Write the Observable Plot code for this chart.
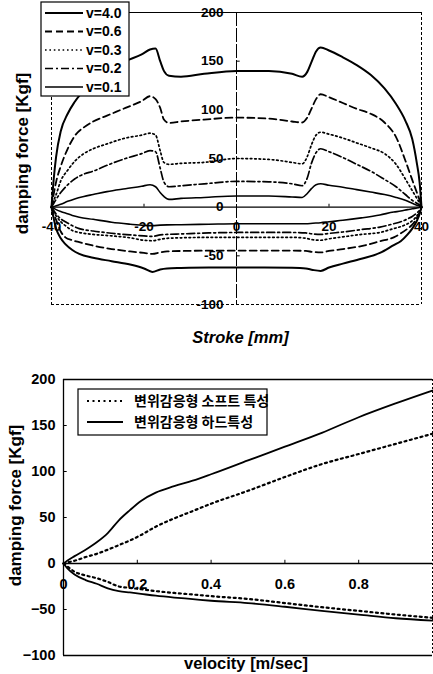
<!DOCTYPE html>
<html>
<head>
<meta charset="utf-8">
<script src="https://cdn.jsdelivr.net/npm/d3@7"></script>
<script src="https://cdn.jsdelivr.net/npm/@observablehq/plot@0.6"></script>
<style>
  body { margin: 0; background: #fff; }
  #charts svg { display: block; }
</style>
</head>
<body>
<div id="charts"></div>
<script>
// ---- Damping force vs. stroke, one loop per piston velocity ----
const velocityLabels = ["v=4.0", "v=0.6", "v=0.3", "v=0.2", "v=0.1"];

// stroke positions (mm) of the compression (upper) branch
const strokeUpper = [-40, -39.5, -39, -38, -36.5, -35, -33, -31, -28, -24, -20.5, -18.7, -17.5, -16.5, -15.7, -14.6, -12, -7, 0, 7, 12, 14.2, 15.3, 16.2, 17.2, 18.2, 20, 23, 26, 29, 32, 34.5, 36.5, 38, 39, 39.6, 40];
const up40 = [0, 30, 52, 78, 96, 108, 120, 130, 140, 150, 157, 162, 163, 150, 140, 135, 134, 137, 140, 140, 137, 134, 139, 149, 160, 164, 161, 154, 146, 136, 122, 106, 89, 70, 45, 25, 0];
const up06 = [0, 14, 26, 42, 60, 73, 82, 88, 94, 102, 109, 114, 111, 102, 90, 86.5, 88, 90, 92, 91, 88, 87, 92, 101, 111, 116, 113, 107, 101, 96, 87, 72, 48, 28, 15, 7, 0];
const up03 = [0, 7, 13, 27, 38, 47, 55, 60, 65, 71, 74, 76, 74, 58, 46, 44, 45, 46, 50, 49, 46, 44.5, 52, 64, 74, 77, 75, 71, 66, 61, 55, 44, 29, 17, 9, 4, 0];
const up02 = [0, 4, 8, 15, 23, 29, 34, 37, 43, 50, 55, 58, 57, 40, 26, 21, 22, 24, 26.5, 26, 24, 22, 30, 45, 56, 60, 57, 51, 44, 37, 28.5, 21, 13, 7, 4, 2, 0];
const up01 = [0, 0.5, 1.5, 3, 6, 8.5, 11, 13, 16, 19, 21.5, 23, 21, 15, 11, 8, 9, 10, 11.5, 11.5, 10.5, 10, 14, 19, 23, 24, 22.5, 20.5, 18, 15.5, 13, 10, 7, 4, 2, 1, 0];

// stroke positions (mm) of the rebound (lower) branch
const strokeLower = [-40, -39.6, -39, -38, -37, -35.5, -34, -31, -27, -23, -20, -18.2, -16.5, -15, -12, -6, 0, 6, 12, 15, 16.5, 18.2, 20, 23, 27, 31, 34, 35.5, 37, 38, 39, 39.6, 40];
const lo40 = [0, -10, -22, -32, -38, -44, -48, -52, -55.5, -59, -63, -66.5, -64, -63, -62.5, -62, -62, -62, -62.3, -63, -64.5, -65.5, -62, -58, -53, -47, -39, -35, -28, -22, -14, -7, 0];
const lo06 = [0, -6, -13, -25, -31, -34, -36, -39.5, -43, -45.5, -47, -48, -46.5, -45.5, -45, -44.7, -44.6, -44.6, -44.6, -45, -46, -46.5, -45, -43, -40, -35, -31, -27, -22, -18, -11, -5, 0];
const lo03 = [0, -4, -9, -15, -19, -24, -26, -28, -29.5, -31.5, -34, -34.5, -33, -32, -31.5, -31, -31, -31, -31, -32, -33.5, -34, -32.5, -30.5, -28, -26, -22, -20, -17, -14, -9, -4.5, 0];
const lo02 = [0, -3, -7, -12, -15, -19, -22, -24.5, -26.8, -28.5, -29.5, -30, -28.5, -28, -27.5, -26.5, -26, -26, -26, -26.5, -27.5, -28, -27, -25.5, -23, -20.5, -17, -15, -12, -9.5, -6, -3, 0];
const lo01 = [0, -1, -2.5, -4.5, -6, -8.5, -10.3, -12.5, -15.5, -17.5, -18.7, -19, -18.5, -18.2, -18, -17.5, -17, -17, -17, -17, -16.5, -16, -15, -13.5, -11, -8, -5, -4, -2.5, -1.7, -0.8, -0.3, 0];

const strokeTicks = [-40, -20, 0, 20, 40];
const forceTicksTop = [200, 150, 100, 50, 0, -50, -100];

// ---- Damping force vs. velocity, soft and hard settings ----
const legendLabels = ["변위감응형 소프트 특성", "변위감응형 하드특성"];
const velocity = [0, 0.01, 0.03, 0.06, 0.09, 0.12, 0.15, 0.18, 0.21, 0.25, 0.3, 0.35, 0.4, 0.5, 0.6, 0.7, 0.8, 0.9, 1.0];
const softUp = [0, 1, 3, 7, 10.5, 15, 20, 25, 31, 40, 49, 57, 65, 79, 94, 108, 119, 130, 141];
const softLo = [0, -3, -9, -13, -16, -20, -25, -26.5, -28, -30, -32, -33.7, -35.5, -38.5, -43, -47.5, -51.5, -55.5, -59];
const hardUp = [0, 3, 8, 15, 23, 33, 47, 58, 68, 77, 84, 90, 97, 112, 127, 142, 159, 174, 188];
const hardLo = [0, -5, -12, -18, -22, -27, -30, -31.5, -33, -35, -37, -38.7, -40.5, -43, -47, -51.5, -55.5, -59.5, -62];

const velocityTicks = [0, 0.2, 0.4, 0.6, 0.8];
const forceTicksBottom = [200, 150, 100, 50, 0, -50, -100];

// ------------------------------------------------------------
const FONT = "'Liberation Sans', Arial, Helvetica, sans-serif";
const KFONT = "'Noto Sans CJK KR', 'Liberation Sans', sans-serif";
const container = document.getElementById("charts");

const upperSets = [up40, up06, up03, up02, up01];
const lowerSets = [lo40, lo06, lo03, lo02, lo01];
const loopStyles = [
  {dash: null, width: 2},
  {dash: "7,4", width: 1.8},
  {dash: "1.6,2.8", width: 1.7},
  {dash: "8,3,2,3", width: 1.7},
  {dash: null, width: 1.6}
];

function loopRows(i) {
  return strokeUpper.map((s, j) => ({stroke: s, force: upperSets[i][j], branch: "up"}))
    .concat(strokeLower.map((s, j) => ({stroke: s, force: lowerSets[i][j], branch: "down"})));
}

const fmtHyphen = d => String(d);

const strokeChart = Plot.plot({
  width: 433,
  height: 350,
  marginLeft: 51,
  marginRight: 12,
  marginTop: 12,
  marginBottom: 46,
  x: {domain: [-40, 40], axis: null},
  y: {domain: [-100, 200], axis: null},
  style: {background: "white", fontFamily: FONT},
  marks: [
    // frame
    Plot.ruleY([200], {stroke: "black", strokeWidth: 1.2}),
    Plot.ruleY([-100], {stroke: "black", strokeWidth: 1, strokeDasharray: "3,2"}),
    Plot.ruleX([-40, 40], {stroke: "black", strokeWidth: 1, strokeDasharray: "3,2"}),
    // axes through the origin
    Plot.ruleX([0], {stroke: "black", strokeWidth: 1, strokeDasharray: "14,2"}),
    Plot.ruleY([0], {stroke: "black", strokeWidth: 1.2}),
    Plot.ruleY(forceTicksTop.filter(d => d !== 0 && d !== 200 && d !== -100), {x1: 0, x2: 0.8, stroke: "black"}),
    Plot.ruleX(strokeTicks.filter(d => Math.abs(d) === 20), {y1: 0, y2: 3, stroke: "black"}),
    // loops
    ...loopStyles.map((st, i) => Plot.line(loopRows(i), {
      x: "stroke", y: "force", z: "branch",
      stroke: "black", strokeWidth: st.width,
      strokeDasharray: st.dash || undefined,
      curve: "monotone-x"
    })),
    // tick labels
    Plot.text(forceTicksTop, {
      x: 0, y: d => d, text: fmtHyphen, textAnchor: "end", dx: -13,
      fontSize: 13.5, fontWeight: "bold", fill: "black"
    }),
    Plot.text(strokeTicks, {
      x: d => d, y: 0, dy: 20, text: fmtHyphen,
      fontSize: 13.5, fontWeight: "bold", fill: "black"
    }),
    // axis titles
    Plot.text(["damping force [Kgf]"], {
      frameAnchor: "left", textAnchor: "middle", lineAnchor: "middle",
      rotate: -90, dx: -29, dy: -5,
      fontSize: 17, fontWeight: "bold", fill: "black"
    }),
    Plot.text(["Stroke [mm]"], {
      frameAnchor: "bottom", textAnchor: "middle", lineAnchor: "middle",
      dx: 4, dy: 33,
      fontSize: 16.5, fontWeight: "bold", fontStyle: "italic", fill: "black"
    })
  ]
});
container.appendChild(strokeChart);

// legend box for the velocity loops
{
  const g = d3.select(strokeChart).append("g").attr("text-anchor", "start");
  g.append("rect").attr("x", 41).attr("y", 2).attr("width", 88).attr("height", 94)
    .attr("fill", "white").attr("stroke", "black").attr("stroke-width", 1.2);
  velocityLabels.forEach((label, i) => {
    const y = 13 + i * 18.5;
    const st = loopStyles[i];
    g.append("line").attr("x1", 45).attr("x2", 83).attr("y1", y).attr("y2", y)
      .attr("stroke", "black").attr("stroke-width", st.width)
      .attr("stroke-dasharray", st.dash);
    g.append("text").attr("x", 86).attr("y", y).attr("dy", "0.35em")
      .attr("text-anchor", "start")
      .attr("font-family", FONT).attr("font-size", 14).attr("font-weight", "bold")
      .text(label);
  });
}

const velocityChart = Plot.plot({
  width: 433,
  height: 324,
  marginLeft: 63,
  marginRight: 1,
  marginTop: 29,
  marginBottom: 19,
  x: {domain: [0, 1], axis: null},
  y: {domain: [-100, 200], axis: null},
  style: {background: "white", fontFamily: FONT},
  marks: [
    Plot.ruleY([200, -100], {stroke: "black", strokeWidth: 1.3}),
    Plot.ruleX([0], {stroke: "black", strokeWidth: 1.3}),
    Plot.ruleX([1], {stroke: "black", strokeWidth: 1, strokeDasharray: "2,2"}),
    Plot.ruleY([0], {stroke: "black", strokeWidth: 1.3}),
    Plot.ruleY(forceTicksBottom.filter(d => d !== 0 && d !== 200 && d !== -100), {x1: 0, x2: 0.01, stroke: "black"}),
    Plot.ruleX(velocityTicks.filter(d => d > 0), {y1: 0, y2: 3.5, stroke: "black"}),
    // soft setting (dotted)
    Plot.line(velocity.map((v, j) => ({v, f: softUp[j], b: "up"}))
      .concat(velocity.map((v, j) => ({v, f: softLo[j], b: "down"}))), {
      x: "v", y: "f", z: "b", stroke: "black", strokeWidth: 2.2,
      strokeDasharray: "2,3.5", curve: "monotone-x"
    }),
    // hard setting (solid)
    Plot.line(velocity.map((v, j) => ({v, f: hardUp[j], b: "up"}))
      .concat(velocity.map((v, j) => ({v, f: hardLo[j], b: "down"}))), {
      x: "v", y: "f", z: "b", stroke: "black", strokeWidth: 1.8,
      curve: "monotone-x"
    }),
    Plot.text(forceTicksBottom, {
      frameAnchor: "left", y: d => d, text: d => String(d).replace("-", "\u2212"),
      textAnchor: "end", dx: -8, fontSize: 14.5, fontWeight: "bold", fill: "black"
    }),
    Plot.text(velocityTicks, {
      x: d => d, y: 0, dy: 21, text: d => String(d),
      fontSize: 14.5, fontWeight: "bold", fill: "black"
    }),
    Plot.text(["damping force [Kgf]"], {
      frameAnchor: "left", textAnchor: "middle", lineAnchor: "middle",
      rotate: -90, dx: -48, dy: -12,
      fontSize: 17, fontWeight: "bold", fill: "black"
    }),
    Plot.text(["velocity [m/sec]"], {
      frameAnchor: "bottom", textAnchor: "middle", lineAnchor: "middle",
      dx: -2, dy: 8,
      fontSize: 16.5, fontWeight: "bold", fill: "black"
    })
  ]
});
container.appendChild(velocityChart);

// legend box for the two settings
{
  const g = d3.select(velocityChart).append("g").attr("text-anchor", "start");
  g.append("rect").attr("x", 78).attr("y", 39).attr("width", 189).attr("height", 46)
    .attr("fill", "white").attr("stroke", "black").attr("stroke-width", 1.2);
  const styles = [{dash: "2,3.5", width: 2.2}, {dash: null, width: 1.8}];
  legendLabels.forEach((label, i) => {
    const y = 51 + i * 21;
    g.append("line").attr("x1", 87).attr("x2", 123).attr("y1", y).attr("y2", y)
      .attr("stroke", "black").attr("stroke-width", styles[i].width)
      .attr("stroke-dasharray", styles[i].dash);
    g.append("text").attr("x", 134).attr("y", y).attr("dy", "0.35em")
      .attr("text-anchor", "start")
      .attr("font-family", KFONT).attr("font-size", 14).attr("font-weight", "bold")
      .text(label);
  });
}
</script>
</body>
</html>
